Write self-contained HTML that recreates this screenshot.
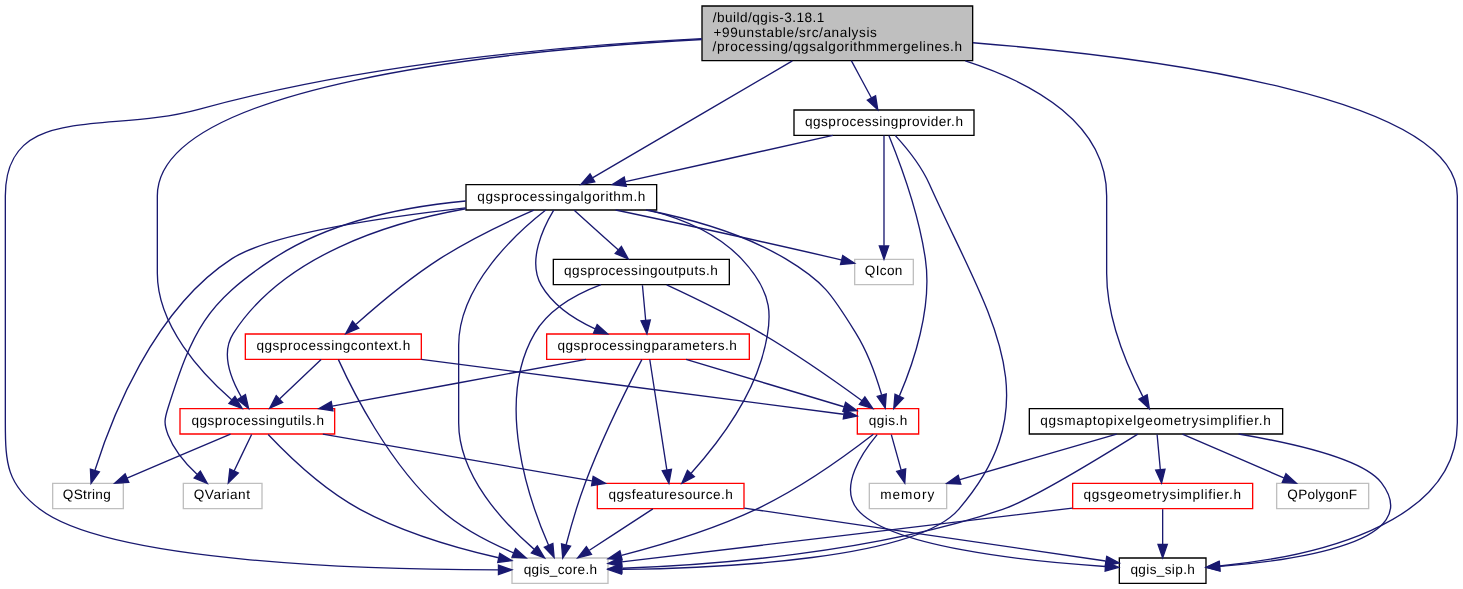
<!DOCTYPE html>
<html>
<head>
<meta charset="utf-8">
<title>qgsalgorithmmergelines.h include dependency graph</title>
<style>
html,body{margin:0;padding:0;background:#ffffff;overflow:hidden;}
body{width:1463px;height:589px;position:relative;}
svg{position:absolute;left:0;top:0;display:block;will-change:transform;}
svg text{font-family:"Liberation Sans",sans-serif;font-size:10.2px;fill:#000000;text-rendering:geometricPrecision;}
</style>
</head>
<body>
<svg width="1462.667" height="589.333" viewBox="0 0 1097 442">
<g transform="translate(4 438)">
<polygon fill="white" stroke="none" points="-4,4 -4,-438 1093,-438 1093,4 -4,4"/>
<g class="node">
<polygon fill="#bfbfbf" stroke="black" points="522.5,-392.5 522.5,-433.5 725.5,-433.5 725.5,-392.5 522.5,-392.5"/>
<text x="530.50" y="-421.50" textLength="83.83" lengthAdjust="spacing">/build/qgis-3.18.1</text>
<text x="531.10" y="-410.50" textLength="122.54" lengthAdjust="spacing">+99unstable/src/analysis</text>
<text x="530.45" y="-399.50" textLength="187.10" lengthAdjust="spacing">/processing/qgsalgorithmmergelines.h</text>
</g>
<g class="node">
<polygon fill="white" stroke="black" points="345.5,-280.5 345.5,-299.5 488.5,-299.5 488.5,-280.5 345.5,-280.5"/>
<text x="354.01" y="-287.50" textLength="125.98" lengthAdjust="spacing">qgsprocessingalgorithm.h</text>
</g>
<g class="edge">
<path fill="none" stroke="#191970" d="M590.28,-392.29C548.22,-367.7 477.36,-326.28 440.65,-304.82"/>
<polygon fill="#191970" stroke="#191970" points="442.07,-301.6 431.67,-299.57 438.54,-307.64 442.07,-301.6"/>
</g>
<g class="node">
<polygon fill="white" stroke="black" points="835.5,-0.5 835.5,-19.5 900.5,-19.5 900.5,-0.5 835.5,-0.5"/>
<text x="843.83" y="-7.50" textLength="48.34" lengthAdjust="spacing">qgis_sip.h</text>
</g>
<g class="edge">
<path fill="none" stroke="#191970" d="M725.76,-405.94C862.61,-394.95 1089,-365.5 1089,-291 1089,-291 1089,-291 1089,-121 1089,-42.24 975.12,-19.87 910.85,-13.52"/>
<polygon fill="#191970" stroke="#191970" points="910.88,-10.01 900.61,-12.6 910.26,-16.98 910.88,-10.01"/>
</g>
<g class="node">
<polygon fill="white" stroke="#bfbfbf" points="380,-0.5 380,-19.5 452,-19.5 452,-0.5 380,-0.5"/>
<text x="388.77" y="-7.50" textLength="55.06" lengthAdjust="spacing">qgis_core.h</text>
</g>
<g class="edge">
<path fill="none" stroke="#191970" d="M522.29,-409.07C424.14,-404.16 272.13,-391.03 145,-356 76.91,-337.24 0,-361.62 0,-291 0,-291 0,-291 0,-121 0,-89.89 1.28,-74.89 26,-56 78.92,-15.55 278.4,-10.64 369.77,-10.57"/>
<polygon fill="#191970" stroke="#191970" points="369.84,-14.07 379.84,-10.59 369.85,-7.07 369.84,-14.07"/>
</g>
<g class="node">
<polygon fill="white" stroke="red" points="131,-112.5 131,-131.5 247,-131.5 247,-112.5 131,-112.5"/>
<text x="139.63" y="-119.50" textLength="99.34" lengthAdjust="spacing">qgsprocessingutils.h</text>
</g>
<g class="edge">
<path fill="none" stroke="#191970" d="M522.33,-408.36C373.54,-400.21 114,-374.09 114,-291 114,-291 114,-291 114,-233 114,-193.44 147.52,-157.62 169.74,-138.21"/>
<polygon fill="#191970" stroke="#191970" points="172.2,-140.71 177.61,-131.6 167.7,-135.35 172.2,-140.71"/>
</g>
<g class="node">
<polygon fill="white" stroke="black" points="768,-112.5 768,-131.5 958,-131.5 958,-112.5 768,-112.5"/>
<text x="776.26" y="-119.50" textLength="172.89" lengthAdjust="spacing">qgsmaptopixelgeometrysimplifier.h</text>
</g>
<g class="edge">
<path fill="none" stroke="#191970" d="M719.97,-392.41C772.09,-375.56 826,-345.06 826,-291 826,-291 826,-291 826,-233 826,-198.89 842.18,-161.79 853.14,-140.57"/>
<polygon fill="#191970" stroke="#191970" points="856.36,-141.98 858.01,-131.51 850.19,-138.66 856.36,-141.98"/>
</g>
<g class="node">
<polygon fill="white" stroke="black" points="591.5,-336.5 591.5,-355.5 726.5,-355.5 726.5,-336.5 591.5,-336.5"/>
<text x="599.77" y="-343.50" textLength="118.46" lengthAdjust="spacing">qgsprocessingprovider.h</text>
</g>
<g class="edge">
<path fill="none" stroke="#191970" d="M634.5,-392.5C639.3,-383.59 644.94,-373.11 649.6,-364.46"/>
<polygon fill="#191970" stroke="#191970" points="652.68,-366.12 654.34,-355.65 646.52,-362.8 652.68,-366.12"/>
</g>
<g class="node">
<polygon fill="white" stroke="red" points="639,-112.5 639,-131.5 685,-131.5 685,-112.5 639,-112.5"/>
<text x="647.50" y="-119.50" textLength="29.00" lengthAdjust="spacing">qgis.h</text>
</g>
<g class="edge">
<path fill="none" stroke="#191970" d="M480.49,-280.5C513.39,-274.05 553.22,-262.93 585,-244 614.44,-226.46 619.92,-217.11 638,-188 646.93,-173.63 653.29,-155.43 657.21,-141.95"/>
<polygon fill="#191970" stroke="#191970" points="660.69,-142.49 659.93,-131.92 653.93,-140.66 660.69,-142.49"/>
</g>
<g class="edge">
<path fill="none" stroke="#191970" d="M405.31,-280.47C383.76,-263.66 340,-223.99 340,-179 340,-179 340,-179 340,-121 340,-81.28 373.96,-45.5 396.48,-26.15"/>
<polygon fill="#191970" stroke="#191970" points="398.98,-28.63 404.46,-19.57 394.52,-23.24 398.98,-28.63"/>
</g>
<g class="node">
<polygon fill="white" stroke="#bfbfbf" points="35.5,-56.5 35.5,-75.5 88.5,-75.5 88.5,-56.5 35.5,-56.5"/>
<text x="43.14" y="-63.50" textLength="35.91" lengthAdjust="spacing">QString</text>
</g>
<g class="edge">
<path fill="none" stroke="#191970" d="M345.27,-282.04C282.97,-274.91 198.42,-262.27 170,-244 110.73,-205.89 78.95,-122.57 67.28,-85.47"/>
<polygon fill="#191970" stroke="#191970" points="70.53,-84.1 64.3,-75.53 63.82,-86.12 70.53,-84.1"/>
</g>
<g class="node">
<polygon fill="white" stroke="#bfbfbf" points="637,-224.5 637,-243.5 681,-243.5 681,-224.5 637,-224.5"/>
<text x="644.61" y="-231.50" textLength="28.17" lengthAdjust="spacing">QIcon</text>
</g>
<g class="edge">
<path fill="none" stroke="#191970" d="M457.73,-280.48C499.35,-271.68 565.79,-257.4 623,-244 624.27,-243.7 625.56,-243.4 626.87,-243.08"/>
<polygon fill="#191970" stroke="#191970" points="628.06,-246.4 636.94,-240.63 626.4,-239.6 628.06,-246.4"/>
</g>
<g class="node">
<polygon fill="white" stroke="black" points="411,-224.5 411,-243.5 543,-243.5 543,-224.5 411,-224.5"/>
<text x="419.05" y="-231.50" textLength="115.31" lengthAdjust="spacing">qgsprocessingoutputs.h</text>
</g>
<g class="edge">
<path fill="none" stroke="#191970" d="M426.64,-280.32C435.51,-272.34 448.87,-260.31 459.61,-250.65"/>
<polygon fill="#191970" stroke="#191970" points="462.09,-253.13 467.18,-243.83 457.41,-247.92 462.09,-253.13"/>
</g>
<g class="node">
<polygon fill="white" stroke="red" points="406,-168.5 406,-187.5 558,-187.5 558,-168.5 406,-168.5"/>
<text x="414.14" y="-175.50" textLength="134.52" lengthAdjust="spacing">qgsprocessingparameters.h</text>
</g>
<g class="edge">
<path fill="none" stroke="#191970" d="M411.3,-280.41C403.43,-267.37 391.36,-242.19 402,-224 410.86,-208.85 426.91,-198.41 442.31,-191.42"/>
<polygon fill="#191970" stroke="#191970" points="443.85,-194.57 451.75,-187.51 441.17,-188.11 443.85,-194.57"/>
</g>
<g class="edge">
<path fill="none" stroke="#191970" d="M345.3,-281.42C287.08,-271.02 208.69,-246.37 171,-188 161.61,-173.45 169.07,-154.02 177.05,-140.21"/>
<polygon fill="#191970" stroke="#191970" points="180.07,-141.99 182.46,-131.67 174.15,-138.24 180.07,-141.99"/>
</g>
<g class="node">
<polygon fill="white" stroke="#bfbfbf" points="133.5,-56.5 133.5,-75.5 192.5,-75.5 192.5,-56.5 133.5,-56.5"/>
<text x="141.33" y="-63.50" textLength="42.14" lengthAdjust="spacing">QVariant</text>
</g>
<g class="edge">
<path fill="none" stroke="#191970" d="M345.32,-287.23C300.65,-283.1 243.75,-272.06 201,-244 150.08,-210.57 140.42,-190.06 122,-132 119.31,-123.53 118.79,-120.29 122,-112 126.45,-100.5 135.37,-90.13 143.75,-82.25"/>
<polygon fill="#191970" stroke="#191970" points="146.24,-84.73 151.46,-75.51 141.63,-79.46 146.24,-84.73"/>
</g>
<g class="node">
<polygon fill="white" stroke="red" points="444,-56.5 444,-75.5 554,-75.5 554,-56.5 444,-56.5"/>
<text x="452.43" y="-63.50" textLength="93.13" lengthAdjust="spacing">qgsfeaturesource.h</text>
</g>
<g class="edge">
<path fill="none" stroke="#191970" d="M482.89,-280.48C507.57,-274.16 533.96,-263.15 552,-244 575.6,-218.94 577.05,-200.93 567,-168 556.72,-134.34 531.05,-101.74 514.35,-83.06"/>
<polygon fill="#191970" stroke="#191970" points="516.75,-80.49 507.4,-75.5 511.6,-85.23 516.75,-80.49"/>
</g>
<g class="node">
<polygon fill="white" stroke="red" points="180,-168.5 180,-187.5 312,-187.5 312,-168.5 180,-168.5"/>
<text x="188.30" y="-175.50" textLength="115.40" lengthAdjust="spacing">qgsprocessingcontext.h</text>
</g>
<g class="edge">
<path fill="none" stroke="#191970" d="M396.42,-280.41C377.5,-272.14 348.99,-258.76 326,-244 302.88,-229.15 278.71,-208.73 263.07,-194.76"/>
<polygon fill="#191970" stroke="#191970" points="265.08,-191.86 255.32,-187.74 260.38,-197.05 265.08,-191.86"/>
</g>
<g class="edge">
<path fill="none" stroke="#191970" d="M653.88,-112.06C642.62,-98.58 625.16,-72.82 639,-56 662.07,-27.96 765.09,-17.12 824.8,-13.15"/>
<polygon fill="#191970" stroke="#191970" points="825.3,-16.62 835.06,-12.5 824.86,-9.64 825.3,-16.62"/>
</g>
<g class="node">
<polygon fill="white" stroke="#bfbfbf" points="648,-56.5 648,-75.5 706,-75.5 706,-56.5 648,-56.5"/>
<text x="656.11" y="-63.50" textLength="40.58" lengthAdjust="spacing">memory</text>
</g>
<g class="edge">
<path fill="none" stroke="#191970" d="M664.48,-112.08C666.49,-104.85 669.39,-94.41 671.89,-85.4"/>
<polygon fill="#191970" stroke="#191970" points="675.26,-86.32 674.57,-75.75 668.52,-84.45 675.26,-86.32"/>
</g>
<g class="edge">
<path fill="none" stroke="#191970" d="M651.04,-112.28C633.41,-98.62 597.24,-72.08 563,-56 530.58,-40.78 491.76,-29.15 462.16,-21.53"/>
<polygon fill="#191970" stroke="#191970" points="462.65,-18.05 452.1,-19 460.94,-24.83 462.65,-18.05"/>
</g>
<g class="edge">
<path fill="none" stroke="#191970" d="M496.01,-224.42C514.5,-215.86 543.21,-202 567,-188 594.06,-172.08 623.69,-151.22 642.54,-137.47"/>
<polygon fill="#191970" stroke="#191970" points="644.65,-140.27 650.63,-131.53 640.5,-134.63 644.65,-140.27"/>
</g>
<g class="edge">
<path fill="none" stroke="#191970" d="M446.75,-224.49C428.87,-217.73 407.7,-206.29 397,-188 367.02,-136.74 392.74,-62.73 407.44,-28.99"/>
<polygon fill="#191970" stroke="#191970" points="410.63,-30.43 411.58,-19.88 404.26,-27.54 410.63,-30.43"/>
</g>
<g class="edge">
<path fill="none" stroke="#191970" d="M477.83,-224.08C478.48,-217.01 479.42,-206.86 480.24,-197.99"/>
<polygon fill="#191970" stroke="#191970" points="483.75,-198.03 481.19,-187.75 476.78,-197.39 483.75,-198.03"/>
</g>
<g class="edge">
<path fill="none" stroke="#191970" d="M510.52,-168.44C542.68,-158.79 594.91,-143.13 628.86,-132.94"/>
<polygon fill="#191970" stroke="#191970" points="630.19,-136.2 638.76,-129.97 628.18,-129.49 630.19,-136.2"/>
</g>
<g class="edge">
<path fill="none" stroke="#191970" d="M477.39,-168.28C468.39,-151.01 448.22,-111.12 435,-76 429.18,-60.53 424.02,-42.44 420.55,-29.28"/>
<polygon fill="#191970" stroke="#191970" points="423.93,-28.37 418.06,-19.55 417.15,-30.1 423.93,-28.37"/>
</g>
<g class="edge">
<path fill="none" stroke="#191970" d="M435.57,-168.44C383.92,-158.92 300.49,-143.55 245.19,-133.36"/>
<polygon fill="#191970" stroke="#191970" points="245.68,-129.89 235.21,-131.52 244.41,-136.77 245.68,-129.89"/>
</g>
<g class="edge">
<path fill="none" stroke="#191970" d="M483.33,-168.37C486.08,-150.62 492.41,-109.67 496.13,-85.6"/>
<polygon fill="#191970" stroke="#191970" points="499.6,-86.01 497.67,-75.59 492.69,-84.94 499.6,-86.01"/>
</g>
<g class="edge">
<path fill="none" stroke="#191970" d="M197.13,-112.1C210.3,-98.2 237.69,-71.33 266,-56 298.65,-38.32 339.15,-26.7 369.84,-19.7"/>
<polygon fill="#191970" stroke="#191970" points="370.82,-23.07 379.84,-17.5 369.32,-16.23 370.82,-23.07"/>
</g>
<g class="edge">
<path fill="none" stroke="#191970" d="M168.88,-112.44C147.98,-103.56 115.07,-89.56 91.28,-79.45"/>
<polygon fill="#191970" stroke="#191970" points="92.6,-76.21 82.03,-75.52 89.86,-82.65 92.6,-76.21"/>
</g>
<g class="edge">
<path fill="none" stroke="#191970" d="M184.71,-112.08C181.15,-104.69 175.98,-93.95 171.58,-84.81"/>
<polygon fill="#191970" stroke="#191970" points="174.71,-83.24 167.21,-75.75 168.4,-86.28 174.71,-83.24"/>
</g>
<g class="edge">
<path fill="none" stroke="#191970" d="M238.12,-112.44C292.88,-102.9 381.41,-87.48 439.91,-77.29"/>
<polygon fill="#191970" stroke="#191970" points="440.86,-80.68 450.11,-75.52 439.66,-73.78 440.86,-80.68"/>
</g>
<g class="edge">
<path fill="none" stroke="#191970" d="M554.24,-56.92C628.29,-46.08 758.16,-27.07 825.22,-17.26"/>
<polygon fill="#191970" stroke="#191970" points="826.04,-20.68 835.43,-15.77 825.03,-13.75 826.04,-20.68"/>
</g>
<g class="edge">
<path fill="none" stroke="#191970" d="M485.66,-56.32C472.84,-47.98 453.22,-35.21 438.06,-25.35"/>
<polygon fill="#191970" stroke="#191970" points="439.59,-22.17 429.3,-19.65 435.78,-28.04 439.59,-22.17"/>
</g>
<g class="edge">
<path fill="none" stroke="#191970" d="M311.92,-168.44C401.95,-156.76 560.01,-136.24 628.64,-127.33"/>
<polygon fill="#191970" stroke="#191970" points="629.39,-130.76 638.86,-126 628.49,-123.82 629.39,-130.76"/>
</g>
<g class="edge">
<path fill="none" stroke="#191970" d="M249.8,-168.27C259.58,-146.68 287.55,-90.07 326,-56 342,-41.82 363.26,-30.92 381.1,-23.4"/>
<polygon fill="#191970" stroke="#191970" points="382.64,-26.55 390.6,-19.57 380.02,-20.06 382.64,-26.55"/>
</g>
<g class="edge">
<path fill="none" stroke="#191970" d="M236.84,-168.32C228.5,-160.42 215.97,-148.55 205.82,-138.94"/>
<polygon fill="#191970" stroke="#191970" points="207.99,-136.17 198.32,-131.83 203.18,-141.25 207.99,-136.17"/>
</g>
<g class="edge">
<path fill="none" stroke="#191970" d="M924.98,-112.5C967.59,-105.24 1018.77,-93.21 1032,-76 1065.72,-32.13 970.18,-17.81 911.02,-13.18"/>
<polygon fill="#191970" stroke="#191970" points="911.02,-9.67 900.79,-12.44 910.52,-16.65 911.02,-9.67"/>
</g>
<g class="edge">
<path fill="none" stroke="#191970" d="M833.53,-112.44C801.74,-103.21 750.97,-88.48 715.92,-78.3"/>
<polygon fill="#191970" stroke="#191970" points="716.61,-74.85 706.03,-75.43 714.66,-81.58 716.61,-74.85"/>
</g>
<g class="edge">
<path fill="none" stroke="#191970" d="M849.34,-112.41C823.69,-96.42 768.98,-63.06 748,-56 650.08,-23.05 528.23,-14.16 462.78,-11.81"/>
<polygon fill="#191970" stroke="#191970" points="462.5,-8.3 452.39,-11.47 462.27,-15.29 462.5,-8.3"/>
</g>
<g class="node">
<polygon fill="white" stroke="#bfbfbf" points="953.5,-56.5 953.5,-75.5 1022.5,-75.5 1022.5,-56.5 953.5,-56.5"/>
<text x="961.54" y="-63.50" textLength="52.32" lengthAdjust="spacing">QPolygonF</text>
</g>
<g class="edge">
<path fill="none" stroke="#191970" d="M882.81,-112.44C903.29,-103.6 935.48,-89.69 958.86,-79.59"/>
<polygon fill="#191970" stroke="#191970" points="960.49,-82.7 968.29,-75.52 957.72,-76.27 960.49,-82.7"/>
</g>
<g class="node">
<polygon fill="white" stroke="red" points="800.5,-56.5 800.5,-75.5 935.5,-75.5 935.5,-56.5 800.5,-56.5"/>
<text x="808.62" y="-63.50" textLength="118.16" lengthAdjust="spacing">qgsgeometrysimplifier.h</text>
</g>
<g class="edge">
<path fill="none" stroke="#191970" d="M863.83,-112.08C864.48,-105.01 865.42,-94.86 866.24,-85.99"/>
<polygon fill="#191970" stroke="#191970" points="869.75,-86.03 867.19,-75.75 862.78,-85.39 869.75,-86.03"/>
</g>
<g class="edge">
<path fill="none" stroke="#191970" d="M868,-56.08C868,-49.01 868,-38.86 868,-29.99"/>
<polygon fill="#191970" stroke="#191970" points="871.5,-29.75 868,-19.75 864.5,-29.75 871.5,-29.75"/>
</g>
<g class="edge">
<path fill="none" stroke="#191970" d="M800.33,-56.92C707.35,-45.81 542.51,-26.11 462.35,-16.54"/>
<polygon fill="#191970" stroke="#191970" points="462.43,-13.02 452.08,-15.31 461.6,-19.97 462.43,-13.02"/>
</g>
<g class="edge">
<path fill="none" stroke="#191970" d="M620.65,-336.44C578.53,-327.04 510.79,-311.93 465.13,-301.74"/>
<polygon fill="#191970" stroke="#191970" points="465.69,-298.28 455.17,-299.52 464.16,-305.11 465.69,-298.28"/>
</g>
<g class="edge">
<path fill="none" stroke="#191970" d="M662.65,-336.29C669.67,-319.05 684.78,-279.2 690,-244 695.49,-207.01 680.69,-164.6 670.57,-141.1"/>
<polygon fill="#191970" stroke="#191970" points="673.64,-139.39 666.34,-131.71 667.26,-142.27 673.64,-139.39"/>
</g>
<g class="edge">
<path fill="none" stroke="#191970" d="M667.36,-336.47C675.21,-327.95 686.68,-314.12 693,-300 737.45,-200.6 786.03,-138.52 715,-56 682.95,-18.76 537.89,-11.92 462.24,-10.93"/>
<polygon fill="#191970" stroke="#191970" points="462.08,-7.43 452.04,-10.83 462.01,-14.43 462.08,-7.43"/>
</g>
<g class="edge">
<path fill="none" stroke="#191970" d="M659,-336.37C659,-318.62 659,-277.67 659,-253.6"/>
<polygon fill="#191970" stroke="#191970" points="662.5,-253.59 659,-243.59 655.5,-253.59 662.5,-253.59"/>
</g>
</g>
</svg>
</body>
</html>
